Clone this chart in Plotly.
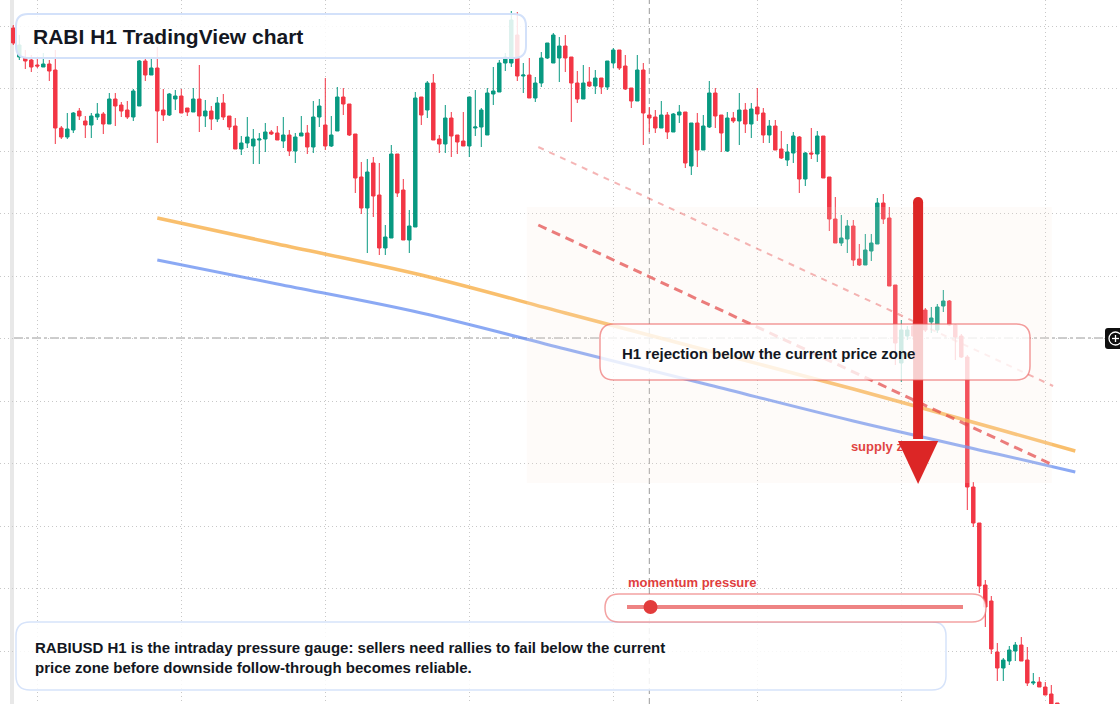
import plotly.graph_objects as go

# ---------------- data (RABIUSD, H1 candles) ----------------
bars = list(range(175))
opens = [.4472,.4443,.4442,.4440,.4435,.4433,.4436,.4430,.4372,.4363,
         .4370,.4389,.4379,.4375,.4383,.4386,.4376,.4401,.4395,.4390,
         .4383,.4394,.4439,.4425,.4432,.4390,.4385,.4401,.4404,.4392,
         .4388,.4401,.4384,.4389,.4381,.4397,.4384,.4374,.4351,.4357,
         .4354,.4360,.4361,.4368,.4367,.4359,.4365,.4349,.4364,.4367,
         .4353,.4383,.4375,.4354,.4369,.4403,.4396,.4366,.4323,.4292,
         .4337,.4305,.4252,.4262,.4346,.4310,.4260,.4273,.4403,.4390,
         .4417,.4361,.4356,.4382,.4365,.4359,.4354,.4372,.4373,.4365,
         .4406,.4408,.4437,.4437,.4465,.4424,.4425,.4402,.4417,.4442,
         .4437,.4442,.4454,.4443,.4417,.4401,.4418,.4414,.4422,.4413,
         .4437,.4450,.4434,.4412,.4399,.4430,.4385,.4383,.4372,.4385,
         .4368,.4385,.4388,.4334,.4377,.4350,.4373,.4407,.4385,.4349,
         .4382,.4379,.4390,.4376,.4393,.4387,.4365,.4374,.4351,.4340,
         .4347,.4363,.4321,.4347,.4346,.4364,.4323,.4281,.4257,.4261,
         .4274,.4241,.4235,.4249,.4256,.4297,.4282,.4215,.4137,.4164,
         .4174,.4178,.4190,.4178,.4170,.4194,.4199,.4175,.4164,.4143,
         .4013,.3977,.3915,.3899,.3848,.3832,.3839,.3849,.3855,.3840,
         .3817,.3818,.3813,.3806,.3797]
highs = [.4475,.4465,.4450,.4445,.4442,.4447,.4440,.4450,.4374,.4387,
         .4388,.4392,.4384,.4387,.4397,.4388,.4407,.4407,.4398,.4399,
         .4411,.4440,.4442,.4442,.4453,.4411,.4407,.4410,.4411,.4392,
         .4412,.4435,.4400,.4394,.4403,.4406,.4384,.4382,.4364,.4383,
         .4371,.4367,.4377,.4370,.4374,.4383,.4370,.4367,.4384,.4375,
         .4399,.4401,.4422,.4384,.4413,.4412,.4396,.4366,.4338,.4341,
         .4343,.4337,.4275,.4355,.4346,.4321,.4290,.4408,.4403,.4419,
         .4426,.4365,.4395,.4388,.4365,.4388,.4403,.4410,.4392,.4412,
         .4433,.4440,.4447,.4489,.4488,.4437,.4442,.4423,.4448,.4457,
         .4467,.4463,.4465,.4443,.4429,.4435,.4433,.4430,.4422,.4439,
         .4452,.4450,.4445,.4412,.4445,.4437,.4393,.4390,.4399,.4388,
         .4387,.4395,.4388,.4377,.4387,.4385,.4419,.4412,.4385,.4388,
         .4388,.4407,.4397,.4397,.4412,.4392,.4380,.4380,.4369,.4356,
         .4368,.4364,.4348,.4372,.4369,.4364,.4323,.4303,.4285,.4280,
         .4280,.4256,.4266,.4266,.4302,.4306,.4293,.4215,.4180,.4174,
         .4178,.4182,.4192,.4193,.4196,.4210,.4200,.4176,.4166,.4145,
         .4018,.3977,.3920,.3904,.3857,.3842,.3854,.3858,.3863,.3853,
         .3827,.3823,.3818,.3815,.3797]
lows = [.4455,.4440,.4431,.4428,.4432,.4433,.4419,.4356,.4361,.4361,
        .4367,.4380,.4362,.4362,.4380,.4366,.4376,.4374,.4383,.4381,
        .4379,.4394,.4419,.4425,.4357,.4379,.4384,.4390,.4387,.4384,
        .4388,.4368,.4373,.4370,.4378,.4380,.4370,.4351,.4345,.4352,
        .4336,.4336,.4348,.4365,.4360,.4352,.4344,.4337,.4364,.4346,
        .4347,.4373,.4350,.4353,.4369,.4385,.4364,.4307,.4286,.4247,
        .4283,.4245,.4245,.4262,.4303,.4260,.4247,.4273,.4375,.4382,
        .4360,.4347,.4347,.4343,.4346,.4354,.4343,.4364,.4353,.4365,
        .4395,.4408,.4429,.4433,.4419,.4407,.4402,.4398,.4413,.4441,
        .4437,.4418,.4428,.4378,.4397,.4401,.4413,.4406,.4406,.4410,
        .4432,.4430,.4410,.4392,.4399,.4355,.4368,.4367,.4372,.4361,
        .4368,.4377,.4332,.4325,.4333,.4350,.4372,.4372,.4348,.4348,
        .4377,.4355,.4367,.4362,.4379,.4357,.4357,.4350,.4341,.4334,
        .4337,.4307,.4314,.4341,.4338,.4322,.4269,.4257,.4254,.4247,
        .4234,.4234,.4235,.4239,.4256,.4276,.4214,.4135,.4118,.4160,
        .4160,.4164,.4168,.4167,.4167,.4188,.4174,.4140,.4142,.3990,
        .3973,.3907,.3873,.3846,.3819,.3819,.3835,.3839,.3839,.3814,
        .3815,.3813,.3805,.3790,.3784]
closes = [.4457,.4455,.4439,.4433,.4434,.4436,.4429,.4372,.4363,.4371,
          .4387,.4384,.4375,.4384,.4386,.4376,.4401,.4394,.4389,.4383,
          .4409,.4439,.4425,.4432,.4389,.4385,.4406,.4404,.4387,.4388,
          .4401,.4384,.4389,.4381,.4397,.4383,.4373,.4351,.4357,.4363,
          .4361,.4361,.4368,.4366,.4360,.4365,.4349,.4363,.4367,.4353,
          .4383,.4394,.4354,.4365,.4403,.4396,.4365,.4322,.4292,.4328,
          .4304,.4252,.4263,.4346,.4307,.4260,.4274,.4402,.4385,.4417,
          .4360,.4356,.4382,.4364,.4358,.4354,.4403,.4373,.4390,.4407,
          .4409,.4437,.4443,.4480,.4424,.4425,.4402,.4417,.4442,.4457,
          .4465,.4454,.4442,.4417,.4401,.4417,.4414,.4422,.4413,.4439,
          .4450,.4432,.4411,.4399,.4430,.4387,.4382,.4372,.4385,.4368,
          .4386,.4388,.4337,.4377,.4350,.4374,.4407,.4384,.4367,.4382,
          .4379,.4390,.4376,.4391,.4386,.4365,.4374,.4350,.4342,.4348,
          .4364,.4321,.4347,.4346,.4364,.4322,.4281,.4257,.4262,.4274,
          .4240,.4235,.4250,.4257,.4297,.4281,.4214,.4157,.4170,.4170,
          .4164,.4168,.4170,.4182,.4193,.4199,.4175,.4163,.4143,.4013,
          .3977,.3914,.3893,.3851,.3832,.3840,.3850,.3855,.3839,.3817,
          .3818,.3813,.3805,.3794,.3788]

# moving-average style overlays
ma_bars = [24, 44, 68, 92, 116, 140, 164, 177]
ma_fast = [.4282, .4256, .4225, .4187, .4149, .4111, .4071, .4049]
ma_slow = [.4240, .4216, .4187, .4151, .4115, .4079, .4046, .4028]

# falling channel (two parallel dashed lines)
channel_bars = [87.5, 173.3]
channel_upper = [.4353, .4114]
channel_lower = [.4275, .4035]

# supply zone
zone_bars = [85.6, 173.1]
zone_prices = [.4293, .4017]

# down arrow
arrow_bar = 150.8
arrow_top, arrow_base, arrow_tip = .4303, .4059, .4016
arrow_half = 3.35

crosshair_bar = 106
crosshair_price = .4162
momentum_value = 0.07

UP, DOWN = "#089981", "#f23645"
FONT = "Liberation Sans, Arial, sans-serif"
W, H = 1120, 704

def px(x): return x / W
def py(y): return 1 - y / H

def rrect(x0, y0, x1, y1, r):
    pts = [("M", x0 + r, y0), ("L", x1 - r, y0), ("Q", x1, y0, x1, y0 + r),
           ("L", x1, y1 - r), ("Q", x1, y1, x1 - r, y1), ("L", x0 + r, y1),
           ("Q", x0, y1, x0, y1 - r), ("L", x0, y0 + r), ("Q", x0, y0, x0 + r, y0)]
    s = ""
    for p in pts:
        c = p[0]
        coords = p[1:]
        parts = []
        for k in range(0, len(coords), 2):
            parts.append(f"{px(coords[k]):.5f},{py(coords[k+1]):.5f}")
        s += c + " " + " ".join(parts) + " "
    return s + "Z"

fig = go.Figure()
fig.add_trace(go.Candlestick(
    x=bars, open=opens, high=highs, low=lows, close=closes,
    increasing=dict(line=dict(color=UP, width=1), fillcolor=UP),
    decreasing=dict(line=dict(color=DOWN, width=1), fillcolor=DOWN),
    whiskerwidth=0, showlegend=False, hoverinfo="skip"))

fig.add_trace(go.Scatter(x=ma_bars, y=ma_fast, mode="lines", line_shape="spline",
                         line=dict(color="rgba(247,170,60,0.75)", width=3.5),
                         showlegend=False, hoverinfo="skip"))
fig.add_trace(go.Scatter(x=ma_bars, y=ma_slow, mode="lines", line_shape="spline",
                         line=dict(color="rgba(100,140,240,0.75)", width=3),
                         showlegend=False, hoverinfo="skip"))
fig.add_trace(go.Scatter(x=[139.6], y=[.4052], mode="text", text=["supply zone"],
                         textposition="middle right",
                         textfont=dict(family=FONT, size=13, color="#dc2626", weight="bold"),
                         showlegend=False, hoverinfo="skip"))

shapes = []
# left strip
shapes.append(dict(type="rect", xref="paper", yref="paper", x0=px(10), x1=px(14), y0=0, y1=1,
                   fillcolor="#e8e8e8", line_width=0, layer="below"))
# crosshair
shapes.append(dict(type="line", xref="x", yref="paper", x0=crosshair_bar, x1=crosshair_bar, y0=0, y1=1,
                   line=dict(color="#9a9a9a", width=1, dash="6px,4px"), layer="below"))
shapes.append(dict(type="line", xref="paper", yref="y", x0=px(14), x1=px(1105), y0=crosshair_price,
                   y1=crosshair_price, line=dict(color="#9a9a9a", width=1, dash="dashdot"), layer="below"))
# zone
shapes.append(dict(type="rect", xref="x", yref="y", x0=zone_bars[0], x1=zone_bars[1],
                   y0=zone_prices[0], y1=zone_prices[1], fillcolor="rgba(250,232,220,0.16)",
                   line_width=0, layer="above"))
# channel lines
shapes.append(dict(type="line", xref="x", yref="y", x0=channel_bars[0], x1=channel_bars[1],
                   y0=channel_upper[0], y1=channel_upper[1],
                   line=dict(color="rgba(232,90,90,0.45)", width=2, dash="6px,6px"), layer="above"))
shapes.append(dict(type="line", xref="x", yref="y", x0=channel_bars[0], x1=channel_bars[1],
                   y0=channel_lower[0], y1=channel_lower[1],
                   line=dict(color="rgba(226,70,70,0.7)", width=3, dash="9px,6px"), layer="above"))
# arrow
shapes.append(dict(type="line", xref="x", yref="y", x0=arrow_bar, x1=arrow_bar, y0=arrow_top - .0005,
                   y1=arrow_base + .0002, line=dict(color="#dc2626", width=10), layer="above"))
shapes.append(dict(type="circle", xref="x", yref="y", xsizemode="pixel", ysizemode="pixel",
                   xanchor=arrow_bar, yanchor=arrow_top - .0005, x0=-5, x1=5, y0=-5, y1=5,
                   fillcolor="#dc2626", line_width=0, layer="above"))
shapes.append(dict(type="path", xref="x", yref="y",
                   path=f"M {arrow_bar-arrow_half},{arrow_base} L {arrow_bar+arrow_half},{arrow_base} L {arrow_bar},{arrow_tip} Z",
                   fillcolor="#dc2626", line_width=0, layer="above"))
# boxes
shapes.append(dict(type="path", xref="paper", yref="paper", path=rrect(600, 324, 1030, 380, 14),
                   fillcolor="rgba(255,255,255,0.78)", line=dict(color="rgba(235,90,90,0.6)", width=1.5),
                   layer="above"))
shapes.append(dict(type="path", xref="paper", yref="paper", path=rrect(16, 14, 526, 58, 12),
                   fillcolor="rgba(255,255,255,0.86)", line=dict(color="#d3e1fa", width=2),
                   layer="above"))
shapes.append(dict(type="path", xref="paper", yref="paper", path=rrect(16, 622, 946, 690, 14),
                   fillcolor="rgba(255,255,255,0.86)", line=dict(color="#d6e3fa", width=1.5),
                   layer="above"))
shapes.append(dict(type="path", xref="paper", yref="paper", path=rrect(605, 594, 986, 622, 14),
                   fillcolor="rgba(255,255,255,0.88)", line=dict(color="rgba(235,100,100,0.6)", width=1.5),
                   layer="above"))
# gauge
g0, g1 = 627, 963
gx = g0 + momentum_value * (g1 - g0)
shapes.append(dict(type="line", xref="paper", yref="paper", x0=px(g0), x1=px(g1), y0=py(607), y1=py(607),
                   line=dict(color="rgba(232,90,90,0.75)", width=4), layer="above"))
shapes.append(dict(type="circle", xref="paper", yref="paper", x0=px(gx - 7), x1=px(gx + 7),
                   y0=py(614), y1=py(600), fillcolor="#e23b3b", line_width=0, layer="above"))
# crosshair price button
shapes.append(dict(type="path", xref="paper", yref="paper", path=rrect(1105, 328, 1130, 349, 3),
                   fillcolor="#0f0f0f", line_width=0, layer="above"))
shapes.append(dict(type="circle", xref="paper", yref="paper", x0=px(1109), x1=px(1122),
                   y0=py(345), y1=py(332), fillcolor="rgba(0,0,0,0)", line=dict(color="white", width=1.3),
                   layer="above"))
shapes.append(dict(type="line", xref="paper", yref="paper", x0=px(1112), x1=px(1119), y0=py(338.5),
                   y1=py(338.5), line=dict(color="white", width=1.3), layer="above"))
shapes.append(dict(type="line", xref="paper", yref="paper", x0=px(1115.5), x1=px(1115.5), y0=py(335),
                   y1=py(342), line=dict(color="white", width=1.3), layer="above"))

annotations = [
    dict(text="<b>RABI H1 TradingView chart</b>", x=px(31), y=py(36), xref="paper", yref="paper",
         xanchor="left", yanchor="middle", showarrow=False, font=dict(family=FONT, size=21, color="#131722")),
    dict(text="<b>H1 rejection below the current price zone</b>", x=px(620), y=py(353), xref="paper",
         yref="paper", xanchor="left", yanchor="middle", showarrow=False,
         font=dict(family=FONT, size=15, color="#131722")),
    dict(text="<b>momentum pressure</b>", x=px(626), y=py(582), xref="paper", yref="paper",
         xanchor="left", yanchor="middle", showarrow=False, font=dict(family=FONT, size=13, color="#e03e3e")),
    dict(text="<b>RABIUSD H1 is the intraday pressure gauge: sellers need rallies to fail below the current<br>"
              "price zone before downside follow-through becomes reliable.</b>",
         x=px(33), y=py(657), xref="paper", yref="paper", xanchor="left", yanchor="middle", align="left",
         showarrow=False, font=dict(family=FONT, size=15, color="#131722")),
]

fig.update_layout(
    width=W, height=H, margin=dict(l=0, r=0, t=0, b=0),
    paper_bgcolor="white", plot_bgcolor="white",
    shapes=shapes, annotations=annotations, boxgap=0.18,
    xaxis=dict(range=[-13.3 / 6, (W - 13.3) / 6], showticklabels=False, zeroline=False,
               showgrid=True, gridcolor="#c8c8c8", griddash="1px,3px", gridwidth=1,
               tick0=3.95, dtick=24, rangeslider=dict(visible=False), fixedrange=True),
    yaxis=dict(range=[0.45 - H / 10000, 0.45], showticklabels=False, zeroline=False,
               showgrid=True, gridcolor="#c8c8c8", griddash="1px,3px", gridwidth=1,
               tick0=0.4474, dtick=0.00625, fixedrange=True),
    showlegend=False,
)

fig.write_html("out.html")
